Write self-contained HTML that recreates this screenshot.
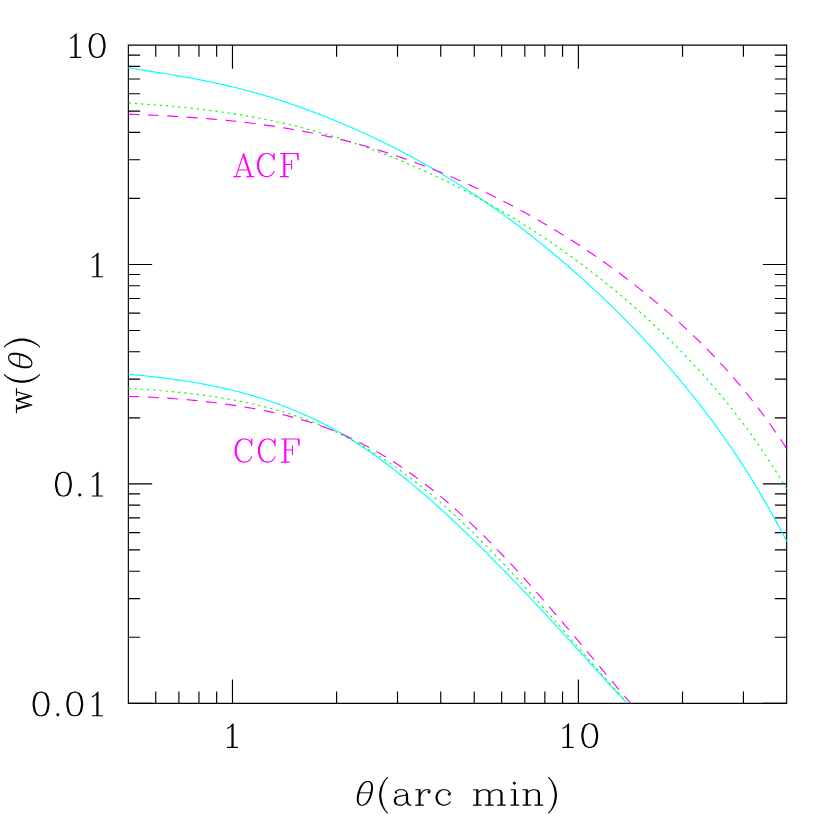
<!DOCTYPE html>
<html><head><meta charset="utf-8"><title>w(theta)</title>
<style>html,body{margin:0;padding:0;background:#fff}svg{display:block}</style></head>
<body>
<svg width="830" height="830" viewBox="0 0 830 830">
<title>w(theta) versus theta (arc min): ACF and CCF model curves</title>
<rect width="830" height="830" fill="#fff"/>
<defs><path id="g0" d="M9,-21L7,-20L6,-19L5,-17L4,-12L4,-9L5,-4L6,-2L7,-1L9,0L6,-1L4,-4L3,-9L3,-12L4,-17L6,-20L9,-21L11,-21L13,-20L14,-19L15,-17L16,-12L16,-9L15,-4L14,-2L13,-1L11,0L14,-1L16,-4L17,-9L17,-12L16,-17L14,-20L11,-21M9,0L11,0"/><path id="g1" d="M11,0L11,-21L8,-18L6,-17M10,-20L10,0M6,0L15,0"/><path id="g2" d="M4,-1L5,-2L6,-1L5,0L4,-1" fill="#000"/><path id="g3" d="M1,-14L8,-14M17,-14L23,-14M4,-14L8,0L12,-14L16,0L20,-14M5,-14L8,-3L7,-7L6,-10M13,-14L16,-3L15,-7L14,-10"/><path id="g4" d="M11,-25L9,-23L7,-19L6,-16L5,-11L5,-7L6,-2L7,1L9,5L7,2L5,-2L4,-7L4,-11L5,-16L7,-20L9,-23M11,7L9,5"/><path id="g5" d="M3,-25L5,-23L7,-19L8,-16L9,-11L9,-7L8,-2L7,1L5,5L7,2L9,-2L10,-7L10,-11L9,-16L7,-20L5,-23M3,7L5,5"/><path id="g6" d="M5,-12L5,-11L4,-11L4,-12L5,-13L7,-14L11,-14L13,-13L14,-12L14,-3L12,-1L10,0L7,0L4,-1L3,-3L3,-5L4,-7L7,-8L13,-9L14,-10M18,0L17,0L15,-1L14,-3M7,-8L5,-7L4,-5L4,-3L5,-1L7,0M17,0L16,-1L15,-3L15,-10L14,-12"/><path id="g7" d="M2,-14L6,-14L6,0M5,-14L5,0M14,-13L13,-12L14,-11L15,-12L15,-13L14,-14L11,-14L9,-13L7,-11L6,-8M2,0L9,0"/><path id="g8" d="M15,-11L14,-10L15,-9L16,-10L16,-11L14,-13L12,-14L9,-14L6,-13L4,-11L3,-8L3,-6L4,-3L6,-1L9,0L7,-1L5,-3L4,-6L4,-8L5,-11L7,-13L9,-14M16,-3L14,-1L11,0L9,0"/><path id="g9" d="M2,-14L6,-14L6,0M5,-14L5,0M6,-11L8,-13L11,-14L13,-14L15,-13L16,-11L16,0M17,0L17,-11L16,-13L13,-14M27,0L27,-11L26,-13L24,-14L22,-14L19,-13L17,-11M28,0L28,-11L27,-13L24,-14M2,0L9,0M13,0L20,0M24,0L31,0"/><path id="g10" d="M2,-14L6,-14L6,0M5,-14L5,0M2,0L9,0M4,-20L5,-21L6,-20L5,-19L4,-20"/><path id="g11" d="M2,-14L6,-14L6,0M5,-14L5,0M6,-11L8,-13L11,-14L13,-14L15,-13L16,-11L16,0M17,0L17,-11L16,-13L13,-14M2,0L9,0M13,0L20,0"/><path id="g12" d="M3,0L10,-21L17,0M10,-18L16,0M5,-6L14,-6M1,0L7,0M13,0L19,0"/><path id="g13" d="M18,-5L17,-3L15,-1L12,0L10,0L7,-1L5,-3L4,-5L3,-8L3,-13L4,-16L5,-18L7,-20L10,-21L12,-21L15,-20L17,-18L18,-21L18,-15L17,-18M10,0L8,-1L6,-3L5,-5L4,-8L4,-13L5,-16L6,-18L8,-20L10,-21"/><path id="g14" d="M2,-21L18,-21L18,-15L17,-21M5,-21L5,0M6,-21L6,0M12,-15L12,-7M6,-11L12,-11M2,0L9,0"/></defs>
<g fill="none" stroke="#000" stroke-width="1.15" stroke-linecap="square">
<path d="M128.35,45.05H786.65V703.3H128.35Z"/>
<path d="M155.74,703.3v-11.8M155.74,45.05v11.8M178.9,703.3v-11.8M178.9,45.05v11.8M198.96,703.3v-11.8M198.96,45.05v11.8M216.65,703.3v-11.8M216.65,45.05v11.8M232.48,703.3v-23.8M232.48,45.05v23.8M336.61,703.3v-11.8M336.61,45.05v11.8M397.52,703.3v-11.8M397.52,45.05v11.8M440.74,703.3v-11.8M440.74,45.05v11.8M474.26,703.3v-11.8M474.26,45.05v11.8M501.65,703.3v-11.8M501.65,45.05v11.8M524.81,703.3v-11.8M524.81,45.05v11.8M544.87,703.3v-11.8M544.87,45.05v11.8M562.56,703.3v-11.8M562.56,45.05v11.8M578.39,703.3v-23.8M578.39,45.05v23.8M682.52,703.3v-11.8M682.52,45.05v11.8M743.43,703.3v-11.8M743.43,45.05v11.8M128.35,703.3h23.8M786.65,703.3h-23.8M128.35,637.25h11.8M786.65,637.25h-11.8M128.35,598.61h11.8M786.65,598.61h-11.8M128.35,571.2h11.8M786.65,571.2h-11.8M128.35,549.93h11.8M786.65,549.93h-11.8M128.35,532.56h11.8M786.65,532.56h-11.8M128.35,517.87h11.8M786.65,517.87h-11.8M128.35,505.15h11.8M786.65,505.15h-11.8M128.35,493.92h11.8M786.65,493.92h-11.8M128.35,483.88h23.8M786.65,483.88h-23.8M128.35,417.83h11.8M786.65,417.83h-11.8M128.35,379.19h11.8M786.65,379.19h-11.8M128.35,351.78h11.8M786.65,351.78h-11.8M128.35,330.52h11.8M786.65,330.52h-11.8M128.35,313.14h11.8M786.65,313.14h-11.8M128.35,298.45h11.8M786.65,298.45h-11.8M128.35,285.73h11.8M786.65,285.73h-11.8M128.35,274.51h11.8M786.65,274.51h-11.8M128.35,264.47h23.8M786.65,264.47h-23.8M128.35,198.42h11.8M786.65,198.42h-11.8M128.35,159.78h11.8M786.65,159.78h-11.8M128.35,132.36h11.8M786.65,132.36h-11.8M128.35,111.1h11.8M786.65,111.1h-11.8M128.35,93.73h11.8M786.65,93.73h-11.8M128.35,79.04h11.8M786.65,79.04h-11.8M128.35,66.31h11.8M786.65,66.31h-11.8M128.35,55.09h11.8M786.65,55.09h-11.8" stroke-linecap="butt"/>
</g>
<g fill="none" stroke-width="1.15" stroke-linecap="butt" stroke-linejoin="round">
<path d="M128.35,67.82L131.35,68.29L134.35,68.76L137.35,69.24L140.35,69.71L143.35,70.18L146.35,70.66L149.35,71.13L152.35,71.61L155.35,72.09L158.35,72.57L161.35,73.06L164.35,73.55L167.35,74.04L170.35,74.54L173.35,75.05L176.35,75.56L179.35,76.08L182.35,76.6L185.35,77.13L188.35,77.67L191.35,78.22L194.35,78.78L197.35,79.34L200.35,79.92L203.35,80.5L206.35,81.1L209.35,81.71L212.35,82.33L215.35,82.96L218.35,83.6L221.35,84.26L224.35,84.93L227.35,85.62L230.35,86.32L233.35,87.04L236.35,87.77L239.35,88.51L242.35,89.28L245.35,90.06L248.35,90.86L251.35,91.67L254.35,92.5L257.35,93.34L260.35,94.2L263.35,95.08L266.35,95.97L269.35,96.88L272.35,97.81L275.35,98.75L278.35,99.7L281.35,100.67L284.35,101.66L287.35,102.66L290.35,103.68L293.35,104.71L296.35,105.75L299.35,106.81L302.35,107.89L305.35,108.98L308.35,110.09L311.35,111.21L314.35,112.34L317.35,113.49L320.35,114.66L323.35,115.83L326.35,117.03L329.35,118.23L332.35,119.45L335.35,120.69L338.35,121.94L341.35,123.2L344.35,124.47L347.35,125.76L350.35,127.07L353.35,128.38L356.35,129.71L359.35,131.06L362.35,132.41L365.35,133.79L368.35,135.17L371.35,136.58L374.35,137.99L377.35,139.42L380.35,140.87L383.35,142.33L386.35,143.8L389.35,145.29L392.35,146.8L395.35,148.32L398.35,149.86L401.35,151.41L404.35,152.98L407.35,154.57L410.35,156.17L413.35,157.79L416.35,159.43L419.35,161.08L422.35,162.75L425.35,164.43L428.35,166.14L431.35,167.86L434.35,169.6L437.35,171.35L440.35,173.13L443.35,174.92L446.35,176.73L449.35,178.55L452.35,180.4L455.35,182.26L458.35,184.15L461.35,186.05L464.35,187.97L467.35,189.91L470.35,191.86L473.35,193.84L476.35,195.84L479.35,197.85L482.35,199.88L485.35,201.94L488.35,204.01L491.35,206.1L494.35,208.21L497.35,210.34L500.35,212.48L503.35,214.65L506.35,216.84L509.35,219.04L512.35,221.27L515.35,223.51L518.35,225.78L521.35,228.06L524.35,230.36L527.35,232.69L530.35,235.03L533.35,237.39L536.35,239.77L539.35,242.17L542.35,244.59L545.35,247.03L548.35,249.49L551.35,251.97L554.35,254.47L557.35,256.99L560.35,259.53L563.35,262.09L566.35,264.67L569.35,267.26L572.35,269.88L575.35,272.52L578.35,275.18L581.35,277.86L584.35,280.57L587.35,283.29L590.35,286.04L593.35,288.81L596.35,291.6L599.35,294.42L602.35,297.26L605.35,300.12L608.35,303.01L611.35,305.92L614.35,308.86L617.35,311.82L620.35,314.81L623.35,317.83L626.35,320.87L629.35,323.94L632.35,327.03L635.35,330.15L638.35,333.3L641.35,336.48L644.35,339.69L647.35,342.93L650.35,346.19L653.35,349.49L656.35,352.82L659.35,356.17L662.35,359.56L665.35,362.98L668.35,366.43L671.35,369.91L674.35,373.42L677.35,376.97L680.35,380.55L683.35,384.16L686.35,387.81L689.35,391.49L692.35,395.22L695.35,398.98L698.35,402.79L701.35,406.64L704.35,410.54L707.35,414.48L710.35,418.47L713.35,422.52L716.35,426.61L719.35,430.76L722.35,434.96L725.35,439.22L728.35,443.54L731.35,447.91L734.35,452.35L737.35,456.85L740.35,461.42L743.35,466.05L746.35,470.75L749.35,475.52L752.35,480.37L755.35,485.28L758.35,490.27L761.35,495.34L764.35,500.48L767.35,505.7L770.35,511L773.35,516.39L776.35,521.86L779.35,527.42L782.35,533.06L785.35,538.79L786.65,541.3" stroke="#00ffff"/>
<path d="M128.65,103.17L130.95,103.29M134.85,103.52L137.15,103.66M141.06,103.91L143.35,104.06M147.26,104.32L149.55,104.48M153.46,104.77L155.75,104.94M159.65,105.24L161.95,105.42M165.85,105.75L168.14,105.94M172.04,106.29L174.33,106.5M178.23,106.86L180.52,107.08M184.42,107.47L186.71,107.71M190.6,108.12L192.89,108.37M196.78,108.81L199.07,109.07M202.95,109.54L205.24,109.82M209.12,110.3L211.41,110.6M215.29,111.11L217.57,111.43M221.45,111.97L223.73,112.3M227.6,112.87L229.88,113.21M233.75,113.81L236.02,114.17M239.89,114.8L242.16,115.18M246.02,115.84L248.29,116.24M252.15,116.93L254.42,117.34M258.27,118.06L260.53,118.5M264.38,119.25L266.64,119.7M270.48,120.48L272.73,120.95M276.57,121.77L278.82,122.26M282.65,123.11L284.89,123.61M288.72,124.5L290.96,125.02M294.77,125.93L297.01,126.48M300.82,127.43L303.06,127.99M306.86,128.97L309.09,129.56M312.88,130.57L315.1,131.17M318.89,132.22L321.11,132.84M324.88,133.92L327.1,134.56M330.86,135.68L333.07,136.34M336.83,137.49L339.03,138.17M342.78,139.35L344.98,140.05M348.71,141.27L350.91,141.99M354.63,143.24L356.82,143.98M360.54,145.26L362.72,146.03M366.42,147.34L368.59,148.12M372.29,149.47L374.46,150.27M378.14,151.65L380.3,152.47M383.97,153.89L386.13,154.72M389.79,156.17L391.93,157.02M395.58,158.5L397.72,159.37M401.36,160.88L403.5,161.77M407.12,163.31L409.25,164.22M412.86,165.78L414.98,166.71M418.59,168.31L420.7,169.25M424.29,170.88L426.4,171.84M429.97,173.49L432.07,174.47M435.64,176.15L437.73,177.15M441.28,178.85L443.37,179.87M446.91,181.6L448.99,182.63M452.52,184.39L454.59,185.44M458.11,187.23L460.17,188.29M463.67,190.1L465.73,191.18M469.22,193.02L471.27,194.11M474.75,195.97L476.79,197.08M480.25,198.97L482.29,200.09M485.74,202.01L487.77,203.15M491.2,205.1L493.22,206.25M496.65,208.22L498.66,209.38M502.07,211.38L504.07,212.56M507.47,214.59L509.46,215.78M512.85,217.83L514.83,219.04M518.2,221.11L520.18,222.34M523.53,224.44L525.5,225.68M528.84,227.8L530.8,229.06M534.13,231.2L536.08,232.47M539.39,234.65L541.33,235.93M544.63,238.13L546.56,239.42M549.85,241.65L551.77,242.96M555.04,245.2L556.95,246.53M560.21,248.8L562.11,250.14M565.35,252.43L567.25,253.78M570.47,256.1L572.36,257.47M575.56,259.8L577.44,261.18M580.63,263.55L582.5,264.94M585.68,267.33L587.54,268.74M590.69,271.15L592.54,272.57M595.69,275L597.53,276.44M600.65,278.89L602.48,280.35M605.59,282.83L607.41,284.29M610.49,286.8L612.3,288.27M615.37,290.8L617.17,292.3M620.23,294.85L622.01,296.35M625.05,298.93L626.83,300.45M629.84,303.05L631.61,304.59M634.6,307.21L636.36,308.76M639.34,311.4L641.08,312.96M644.04,315.63L645.77,317.21M648.71,319.9L650.43,321.49M653.35,324.21L655.06,325.81M657.96,328.55L659.66,330.16M662.54,332.92L664.23,334.55M667.09,337.34L668.76,338.98M671.6,341.78L673.27,343.44M676.09,346.26L677.74,347.93M680.54,350.78L682.18,352.46M684.96,355.33L686.59,357.02M689.35,359.91L690.96,361.62M693.7,364.53L695.3,366.25M698.01,369.19L699.6,370.93M702.29,373.89L703.86,375.64M706.52,378.62L708.08,380.39M710.72,383.4L712.26,385.17M714.87,388.21L716.4,390M718.99,393.06L720.5,394.87M723.05,397.96L724.55,399.78M727.08,402.89L728.56,404.72M731.06,407.86L732.52,409.71M734.99,412.87L736.44,414.73M738.88,417.92L740.31,419.79M742.73,423L744.14,424.89M746.53,428.12L747.92,430.03M750.28,433.28L751.66,435.2M753.99,438.48L755.35,440.41M757.65,443.71L759,445.65M761.27,448.97L762.6,450.93M764.84,454.26L766.15,456.23M768.37,459.59L769.67,461.57M771.85,464.95L773.13,466.95M775.29,470.34L776.56,472.35M778.69,475.76L779.94,477.78M782.05,481.21L783.28,483.24M785.36,486.69L786.57,488.73" stroke="#00ff00"/>
<path d="M128.35,114.19L132.03,114.32L135.71,114.46L139.39,114.61M147.76,114.96L151.44,115.13L155.12,115.3L158.8,115.47M167.17,115.91L170.85,116.11L174.53,116.32L178.2,116.54M186.57,117.07L190.24,117.32L193.92,117.58L197.59,117.85M205.94,118.5L209.61,118.81L213.28,119.12L216.95,119.45M225.29,120.24L228.96,120.61L232.62,120.99L236.29,121.39M244.61,122.34L248.27,122.78L251.92,123.23L255.58,123.7M263.88,124.82L267.53,125.34L271.17,125.88L274.81,126.43M283.09,127.74L286.72,128.35L290.35,128.97L293.98,129.61M302.22,131.12L305.84,131.82L309.45,132.53L313.06,133.26M321.26,134.99L324.86,135.78L328.45,136.59L332.04,137.42M340.19,139.38L343.77,140.27L347.33,141.18L350.9,142.11M358.99,144.31L362.53,145.3L366.07,146.31L369.61,147.35M377.63,149.77L381.15,150.86L384.66,151.97L388.17,153.11M396.12,155.75L399.6,156.93L403.08,158.14L406.56,159.37M414.44,162.21L417.89,163.5L421.34,164.79L424.78,166.11M432.59,169.15L436.01,170.52L439.42,171.9L442.83,173.3M450.56,176.54L453.94,177.99L457.32,179.45L460.7,180.93M468.35,184.35L471.7,185.88L475.04,187.43L478.38,188.98M485.95,192.58L489.26,194.19L492.57,195.81L495.87,197.45M503.35,201.22L506.63,202.91L509.89,204.61L513.15,206.32M520.54,210.27L523.78,212.04L527.01,213.81L530.22,215.6M537.52,219.73L540.71,221.56L543.9,223.41L547.07,225.28M554.27,229.58L557.42,231.49L560.56,233.41L563.69,235.35M570.78,239.81L573.89,241.79L576.98,243.79L580.07,245.8M587.06,250.42L590.11,252.48L593.16,254.55L596.2,256.63M603.07,261.42L606.08,263.55L609.08,265.69L612.06,267.85M618.82,272.81L621.77,275.01L624.71,277.23L627.64,279.46M634.28,284.58L637.17,286.85L640.06,289.14L642.94,291.44M649.44,296.73L652.28,299.07L655.11,301.43L657.93,303.8M664.3,309.25L667.08,311.66L669.85,314.09L672.61,316.53M678.85,322.13L681.57,324.61L684.28,327.1L686.98,329.61M693.07,335.36L695.73,337.91L698.37,340.48L701,343.06M706.92,348.98L709.5,351.61L712.07,354.26L714.62,356.92M720.36,363.02L722.85,365.73L725.33,368.45L727.79,371.19M733.33,377.48L735.74,380.27L738.13,383.07L740.5,385.89M745.83,392.35L748.15,395.22L750.45,398.1L752.73,400.99M757.85,407.62L760.07,410.56L762.28,413.51L764.47,416.47M769.38,423.26L771.51,426.26L773.63,429.28L775.73,432.3M780.44,439.23L782.49,442.3L784.51,445.37L786.52,448.46" stroke="#ff00ff"/>
<path d="M128.35,374.26L131.35,374.53L134.35,374.8L137.35,375.09L140.35,375.38L143.35,375.68L146.35,375.99L149.35,376.31L152.35,376.64L155.35,376.98L158.35,377.33L161.35,377.69L164.35,378.06L167.35,378.45L170.35,378.84L173.35,379.25L176.35,379.67L179.35,380.1L182.35,380.55L185.35,381.01L188.35,381.48L191.35,381.97L194.35,382.47L197.35,382.99L200.35,383.53L203.35,384.08L206.35,384.64L209.35,385.23L212.35,385.83L215.35,386.44L218.35,387.08L221.35,387.73L224.35,388.41L227.35,389.1L230.35,389.81L233.35,390.54L236.35,391.29L239.35,392.06L242.35,392.86L245.35,393.67L248.35,394.51L251.35,395.36L254.35,396.24L257.35,397.15L260.35,398.07L263.35,399.03L266.35,400L269.35,401L272.35,402.03L275.35,403.08L278.35,404.16L281.35,405.26L284.35,406.39L287.35,407.55L290.35,408.73L293.35,409.95L296.35,411.19L299.35,412.46L302.35,413.77L305.35,415.1L308.35,416.46L311.35,417.85L314.35,419.28L317.35,420.74L320.35,422.22L323.35,423.75L326.35,425.3L329.35,426.89L332.35,428.51L335.35,430.17L338.35,431.86L341.35,433.58L344.35,435.35L347.35,437.14L350.35,438.98L353.35,440.85L356.35,442.76L359.35,444.7L362.35,446.68L365.35,448.69L368.35,450.73L371.35,452.81L374.35,454.92L377.35,457.07L380.35,459.24L383.35,461.45L386.35,463.69L389.35,465.96L392.35,468.26L395.35,470.59L398.35,472.94L401.35,475.33L404.35,477.74L407.35,480.18L410.35,482.65L413.35,485.15L416.35,487.67L419.35,490.21L422.35,492.78L425.35,495.38L428.35,498L431.35,500.64L434.35,503.31L437.35,506L440.35,508.71L443.35,511.44L446.35,514.19L449.35,516.97L452.35,519.76L455.35,522.57L458.35,525.4L461.35,528.25L464.35,531.12L467.35,534.01L470.35,536.91L473.35,539.84L476.35,542.77L479.35,545.73L482.35,548.7L485.35,551.68L488.35,554.69L491.35,557.7L494.35,560.73L497.35,563.78L500.35,566.84L503.35,569.91L506.35,573L509.35,576.09L512.35,579.21L515.35,582.33L518.35,585.46L521.35,588.61L524.35,591.77L527.35,594.93L530.35,598.11L533.35,601.3L536.35,604.5L539.35,607.71L542.35,610.92L545.35,614.15L548.35,617.38L551.35,620.62L554.35,623.87L557.35,627.12L560.35,630.39L563.35,633.65L566.35,636.93L569.35,640.21L572.35,643.49L575.35,646.78L578.35,650.08L581.35,653.37L584.35,656.67L587.35,659.97L590.35,663.27L593.35,666.57L596.35,669.87L599.35,673.16L602.35,676.46L605.35,679.75L608.35,683.03L611.35,686.31L614.35,689.59L617.35,692.86L620.35,696.12L623.35,699.37L626.35,702.62L626.8,703.1" stroke="#00ffff"/>
<path d="M128.35,388.4L130.59,388.53M134.52,388.76L136.81,388.9M140.74,389.15L143.04,389.3M146.96,389.57L149.26,389.73M153.19,390.02L155.48,390.2M159.4,390.51L161.7,390.7M165.62,391.03L167.91,391.23M171.83,391.59L174.12,391.81M178.04,392.2L180.33,392.44M184.25,392.85L186.53,393.11M190.44,393.55L192.73,393.83M196.64,394.31L198.92,394.6M202.83,395.11L205.11,395.42M209.01,395.97L211.28,396.31M215.18,396.9L217.45,397.25M221.34,397.88L223.62,398.26M227.5,398.93L229.77,399.33M233.64,400.04L235.91,400.46M239.77,401.22L242.03,401.67M245.89,402.47L248.15,402.95M252,403.79L254.25,404.3M258.09,405.2L260.33,405.73M264.16,406.68L266.39,407.25M270.21,408.24L272.44,408.84M276.24,409.9L278.46,410.53M282.25,411.64L284.46,412.3M288.23,413.47L290.43,414.17M294.19,415.39L296.38,416.13M300.12,417.41L302.29,418.18M306.01,419.53L308.18,420.34M311.87,421.75L314.03,422.59M317.7,424.06L319.84,424.94M323.49,426.47L325.62,427.39M329.24,428.99L331.35,429.94M334.95,431.6L337.04,432.59M340.62,434.31L342.69,435.34M346.24,437.13L348.3,438.19M351.81,440.04L353.85,441.14M357.34,443.05L359.36,444.18M362.82,446.15L364.82,447.32M368.25,449.34L370.24,450.54M373.63,452.62L375.61,453.85M378.97,455.98L380.93,457.24M384.26,459.41L386.2,460.7M389.5,462.93L391.43,464.24M394.7,466.52L396.61,467.86M399.86,470.17L401.75,471.54M404.97,473.9L406.84,475.29M410.03,477.68L411.89,479.1M415.05,481.53L416.9,482.97M420.03,485.44L421.86,486.9M424.97,489.41L426.78,490.89M429.87,493.43L431.66,494.93M434.72,497.51L436.51,499.03M439.54,501.64L441.31,503.17M444.32,505.81L446.07,507.36M449.06,510.03L450.8,511.6M453.76,514.3L455.48,515.89M458.42,518.61L460.13,520.21M463.05,522.97L464.75,524.58M467.64,527.36L469.33,528.99M472.2,531.79L473.88,533.43M476.73,536.26L478.4,537.91M481.23,540.75L482.89,542.42M485.71,545.28L487.35,546.96M490.15,549.83L491.79,551.52M494.58,554.41L496.2,556.11M498.97,559.02L500.59,560.72M503.35,563.64L504.96,565.36M507.71,568.29L509.31,570.01M512.05,572.96L513.64,574.68M516.37,577.64L517.96,579.37M520.67,582.34L522.25,584.08M524.96,587.06L526.54,588.8M529.23,591.79L530.81,593.54M533.5,596.53L535.06,598.28M537.74,601.28L539.31,603.04M541.98,606.05L543.55,607.81M546.21,610.82L547.77,612.58M550.44,615.6L551.99,617.37M554.65,620.39L556.2,622.16M558.86,625.18L560.41,626.95M563.06,629.98L564.61,631.75M567.26,634.79L568.81,636.56M571.45,639.59L573,641.37M575.65,644.4L577.19,646.17M579.84,649.21L581.39,650.98M584.03,654.02L585.58,655.79M588.22,658.83L589.77,660.6M592.41,663.64L593.96,665.41M596.61,668.45L598.16,670.22M600.81,673.25L602.35,675.02M605.01,678.05L606.56,679.82M609.21,682.85L610.76,684.62M613.42,687.64L614.97,689.41M617.64,692.43L619.19,694.19M621.86,697.21L623.42,698.97M626.09,701.98L626.8,702.78" stroke="#00ff00"/>
<path d="M128.35,396.43L132.03,396.53L135.71,396.64L139.39,396.77M147.79,397.11L151.47,397.28L155.15,397.47L158.82,397.67M167.21,398.19L170.88,398.44L174.56,398.71L178.23,398.99M186.6,399.69L190.27,400.03L193.93,400.38L197.6,400.74M205.95,401.64L209.61,402.06L213.27,402.5L216.92,402.96M225.25,404.06L228.9,404.57L232.54,405.1L236.18,405.65M244.48,406.97L248.11,407.58L251.74,408.21L255.37,408.86M263.62,410.44L267.23,411.17L270.83,411.93L274.43,412.71M282.61,414.61L286.19,415.49L289.76,416.4L293.32,417.34M301.41,419.62L304.94,420.67L308.46,421.75L311.96,422.87M319.92,425.56L324.61,427.25L329.28,429L333.91,430.82M341.67,434.05L345.04,435.53L348.4,437.04L351.74,438.6M359.29,442.28L362.57,443.95L365.84,445.65L369.08,447.39M376.42,451.49L379.61,453.33L382.78,455.21L385.93,457.11M393.05,461.57L396.15,463.57L399.22,465.59L402.28,467.64M409.19,472.42L412.19,474.55L415.18,476.71L418.15,478.89M424.86,483.94L427.77,486.2L430.67,488.47L433.55,490.76M440.06,496.07L442.89,498.43L445.71,500.8L448.51,503.2M454.83,508.72L457.58,511.17L460.32,513.64L463.04,516.12M469.19,521.84L471.87,524.37L474.53,526.92L477.18,529.47M483.18,535.35L485.8,537.95L488.4,540.55L490.99,543.17M496.86,549.18L499.42,551.83L501.96,554.49L504.5,557.16M510.26,563.28L512.77,565.97L515.27,568.68L517.77,571.39M523.43,577.59L525.9,580.33L528.36,583.06L530.82,585.81M536.39,592.09L538.83,594.85L541.26,597.62L543.69,600.39M549.2,606.73L551.61,609.52L554.01,612.31L556.41,615.1M561.86,621.49L564.25,624.3L566.63,627.11L569.01,629.92M574.42,636.34L576.79,639.17L579.15,641.99L581.52,644.81M586.9,651.26L589.26,654.09L591.62,656.92L593.98,659.75M599.36,666.2L601.72,669.03L604.08,671.86L606.44,674.68M611.83,681.13L614.19,683.95L616.56,686.77L618.94,689.59M624.36,696L626.4,698.41L628.45,700.82L630.5,703.23" stroke="#ff00ff"/>
</g>
<g fill="none" stroke="#000" stroke-linecap="round" stroke-linejoin="round">
<use href="#g1" transform="translate(63.8,57.4) scale(1.125)" stroke-width="0.978"/><use href="#g0" transform="translate(85.86,57.4) scale(1.125)" stroke-width="0.978"/><use href="#g1" transform="translate(85.6,276.7) scale(1.125)" stroke-width="0.978"/><use href="#g0" transform="translate(52.16,496) scale(1.125)" stroke-width="0.978"/><use href="#g2" transform="translate(74.1,496) scale(1.125)" stroke-width="0.978"/><use href="#g1" transform="translate(85.6,496) scale(1.125)" stroke-width="0.978"/><use href="#g0" transform="translate(29.8,715.8) scale(1.125)" stroke-width="0.978"/><use href="#g2" transform="translate(52.2,715.8) scale(1.125)" stroke-width="0.978"/><use href="#g0" transform="translate(63.5,715.8) scale(1.125)" stroke-width="0.978"/><use href="#g1" transform="translate(85.6,715.8) scale(1.125)" stroke-width="0.978"/><use href="#g1" transform="translate(220.7,747.4) scale(1.125)" stroke-width="0.978"/><use href="#g1" transform="translate(556.2,747.4) scale(1.125)" stroke-width="0.978"/><use href="#g0" transform="translate(578.5,747.4) scale(1.125)" stroke-width="0.978"/><use href="#g4" transform="translate(375.35,805.15) scale(1.1)" stroke-width="1.000"/><use href="#g6" transform="translate(391.05,805.15) scale(1.1)" stroke-width="1.000"/><use href="#g7" transform="translate(413.55,805.15) scale(1.1)" stroke-width="1.000"/><use href="#g8" transform="translate(432.75,805.15) scale(1.1)" stroke-width="1.000"/><use href="#g9" transform="translate(471.25,805.15) scale(1.1)" stroke-width="1.000"/><use href="#g10" transform="translate(508.85,805.15) scale(1.1)" stroke-width="1.000"/><use href="#g11" transform="translate(520.75,805.15) scale(1.1)" stroke-width="1.000"/><use href="#g5" transform="translate(545.35,805.15) scale(1.1)" stroke-width="1.000"/>
<path d="M371.7,793.35L371.16,795.37L370.6,797.01L369.99,798.49L369.31,799.84L368.57,801.05L367.78,802.12L366.94,803.04L366.06,803.81L365.14,804.41L364.18,804.85L363.18,805.11L362,805.2L360.86,805.11L359.98,804.85L359.24,804.41L358.62,803.81L358.11,803.04L357.72,802.12L357.45,801.05L357.31,799.84L357.29,798.49L357.41,797.01L357.66,795.37L358.1,793.35L358.64,791.33L359.2,789.69L359.81,788.21L360.49,786.86L361.23,785.65L362.02,784.58L362.86,783.66L363.74,782.89L364.66,782.29L365.62,781.85L366.62,781.59L367.8,781.5L368.94,781.59L369.82,781.85L370.56,782.29L371.18,782.89L371.69,783.66L372.08,784.58L372.35,785.65L372.49,786.86L372.51,788.21L372.39,789.69L372.14,791.33ZM370.7,793.35L370.16,795.37L369.63,797.01L369.05,798.49L368.43,799.84L367.76,801.05L367.04,802.12L366.29,803.04L365.51,803.81L364.71,804.41L363.87,804.85L363.01,805.11L362,805.2L361.03,805.11L360.29,804.85L359.67,804.41L359.16,803.81L358.76,803.04L358.46,802.12L358.27,801.05L358.19,799.84L358.23,798.49L358.38,797.01L358.65,795.37L359.1,793.35L359.64,791.33L360.17,789.69L360.75,788.21L361.37,786.86L362.04,785.65L362.76,784.58L363.51,783.66L364.29,782.89L365.09,782.29L365.93,781.85L366.79,781.59L367.8,781.5L368.77,781.59L369.51,781.85L370.13,782.29L370.64,782.89L371.04,783.66L371.34,784.58L371.53,785.65L371.61,786.86L371.57,788.21L371.42,789.69L371.15,791.33Z" stroke-width="1.1"/><path d="M359.24,792.8H370.83" stroke-width="0.94"/>
<g transform="translate(31.85,412.95) rotate(-90)"><use href="#g3" transform="translate(-0.9,0) scale(1.1)" stroke-width="1.000"/><use href="#g4" transform="translate(26.3,0) scale(1.1)" stroke-width="1.000"/><use href="#g5" transform="translate(62.8,0) scale(1.1)" stroke-width="1.000"/><path d="M58.95,-11.6L58.42,-9.63L57.88,-8.02L57.28,-6.57L56.63,-5.25L55.92,-4.07L55.16,-3.02L54.35,-2.11L53.5,-1.36L52.62,-0.77L51.7,-0.34L50.74,-0.09L49.61,0L48.52,-0.09L47.69,-0.34L46.98,-0.77L46.38,-1.36L45.9,-2.11L45.54,-3.02L45.29,-4.07L45.16,-5.25L45.15,-6.57L45.27,-8.02L45.51,-9.63L45.95,-11.6L46.48,-13.57L47.02,-15.18L47.62,-16.63L48.27,-17.95L48.98,-19.13L49.74,-20.18L50.55,-21.09L51.4,-21.84L52.28,-22.43L53.2,-22.86L54.16,-23.11L55.29,-23.2L56.38,-23.11L57.21,-22.86L57.92,-22.43L58.52,-21.84L59,-21.09L59.36,-20.18L59.61,-19.13L59.74,-17.95L59.75,-16.63L59.63,-15.18L59.39,-13.57ZM57.95,-11.6L57.43,-9.63L56.91,-8.02L56.35,-6.57L55.75,-5.25L55.1,-4.07L54.42,-3.02L53.7,-2.11L52.95,-1.36L52.18,-0.77L51.39,-0.34L50.57,-0.09L49.61,0L48.69,-0.09L47.99,-0.34L47.41,-0.77L46.93,-1.36L46.55,-2.11L46.28,-3.02L46.11,-4.07L46.04,-5.25L46.08,-6.57L46.24,-8.02L46.51,-9.63L46.95,-11.6L47.47,-13.57L47.99,-15.18L48.55,-16.63L49.15,-17.95L49.8,-19.13L50.48,-20.18L51.2,-21.09L51.95,-21.84L52.72,-22.43L53.51,-22.86L54.33,-23.11L55.29,-23.2L56.21,-23.11L56.91,-22.86L57.49,-22.43L57.97,-21.84L58.35,-21.09L58.62,-20.18L58.79,-19.13L58.86,-17.95L58.82,-16.63L58.66,-15.18L58.39,-13.57Z" stroke-width="1.1"/><path d="M47.09,-12.15H58.08" stroke-width="0.94"/></g>
</g>
<g fill="none" stroke="#ff00ff" stroke-linecap="round" stroke-linejoin="round">
<use href="#g12" transform="translate(232.6,176.65) scale(1.105)" stroke-width="0.995"/><use href="#g13" transform="translate(254.3,176.65) scale(1.105)" stroke-width="0.995"/><use href="#g14" transform="translate(278.3,176.65) scale(1.105)" stroke-width="0.995"/><use href="#g13" transform="translate(231.9,462.15) scale(1.105)" stroke-width="0.995"/><use href="#g13" transform="translate(255.2,462.15) scale(1.105)" stroke-width="0.995"/><use href="#g14" transform="translate(279.2,462.15) scale(1.105)" stroke-width="0.995"/>
</g>
</svg>
</body></html>
